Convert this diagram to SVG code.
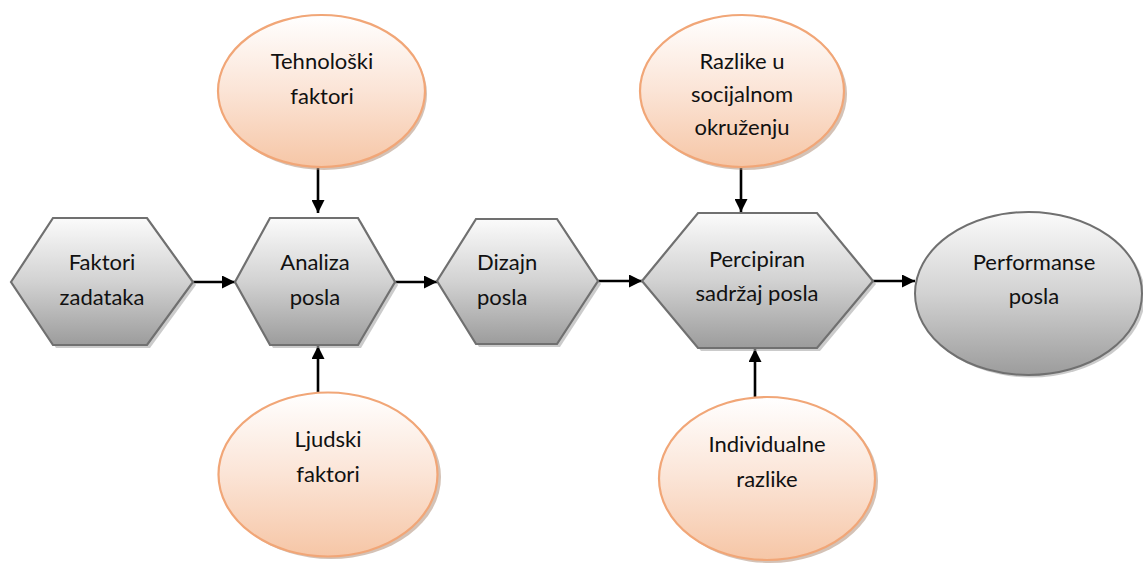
<svg xmlns="http://www.w3.org/2000/svg" width="1143" height="563" viewBox="0 0 1143 563">
<defs>
<linearGradient id="gGray" x1="0" y1="0" x2="0" y2="1">
<stop offset="0" stop-color="#fbfbfb"/>
<stop offset="0.5" stop-color="#d2d2d2"/>
<stop offset="1" stop-color="#9c9c9c"/>
</linearGradient>
<linearGradient id="gOrange" x1="0" y1="0" x2="0" y2="1">
<stop offset="0" stop-color="#ffffff"/>
<stop offset="0.5" stop-color="#fbe4d6"/>
<stop offset="1" stop-color="#f6c6a6"/>
</linearGradient>
<marker id="arr" viewBox="0 0 10 10" refX="10" refY="5" markerWidth="5.5" markerHeight="5" orient="auto" markerUnits="strokeWidth">
<path d="M0,0 L10,5 L0,10 z" fill="#000"/>
</marker>
</defs>
<style>
.hex{fill:url(#gGray);stroke:#707070;stroke-width:2.2;stroke-linejoin:miter}
.gel{fill:url(#gGray);stroke:#707070;stroke-width:2}
.oel{fill:url(#gOrange);stroke:#f1a677;stroke-width:2.2}
.sh{fill:#a8a8a8;opacity:0.6}
.osh{fill:#b89a86;opacity:0.6}
.t{font-family:Lato,"Open Sans","Liberation Sans",sans-serif;font-size:22px;fill:#111;text-anchor:middle}
.tl{text-anchor:start}
.c{stroke:#000;stroke-width:2.6;fill:none;marker-end:url(#arr)}
</style>
<rect width="1143" height="563" fill="#fff"/>

<g id="connectors">
<line class="c" x1="193" y1="282" x2="235" y2="282"/>
<line class="c" x1="395" y1="282" x2="437" y2="282"/>
<line class="c" x1="598" y1="281" x2="642" y2="281"/>
<line class="c" x1="873" y1="281" x2="915" y2="281"/>
<line class="c" x1="318" y1="168" x2="318" y2="213"/>
<line class="c" x1="318" y1="393" x2="318" y2="346"/>
<line class="c" x1="741" y1="168" x2="741" y2="212"/>
<line class="c" x1="755" y1="397" x2="755" y2="349"/>
</g>

<g id="n-faktori-zadataka">
<polygon class="sh" points="14,285 56,221 150,221 196,285 150,348 56,348"/>
<polygon class="hex" points="11,282 53,218 147,218 193,282 147,345 53,345"/>
<text class="t" x="102" y="270">Faktori</text>
<text class="t" x="102" y="305">zadataka</text>
</g>

<g id="n-analiza-posla">
<polygon class="sh" points="238,285 273,221 361,221 398,285 361,348 273,348"/>
<polygon class="hex" points="235,282 270,218 358,218 395,282 358,345 270,345"/>
<text class="t" x="315" y="270">Analiza</text>
<text class="t" x="315" y="305">posla</text>
</g>

<g id="n-dizajn-posla">
<polygon class="sh" points="440,284 479,222 560,222 601,284 560,347 479,347"/>
<polygon class="hex" points="437,281 476,219 557,219 598,281 557,344 476,344"/>
<text class="t tl" x="477" y="270">Dizajn</text>
<text class="t tl" x="477" y="305">posla</text>
</g>

<g id="n-percipiran">
<polygon class="sh" points="645,284 701,216 820,216 876,284 820,351 701,351"/>
<polygon class="hex" points="642,281 698,213 817,213 873,281 817,348 698,348"/>
<text class="t" x="757" y="267">Percipiran</text>
<text class="t" x="757" y="301">sadržaj posla</text>
</g>

<g id="n-performanse">
<ellipse class="sh" cx="1031" cy="296" rx="114" ry="81.5"/>
<ellipse class="gel" cx="1028.5" cy="293.5" rx="113.5" ry="81.5"/>
<text class="t" x="1034" y="270">Performanse</text>
<text class="t" x="1034" y="304">posla</text>
</g>

<g id="n-tehnoloski">
<ellipse class="osh" cx="324" cy="94" rx="103" ry="76"/>
<ellipse class="oel" cx="321.5" cy="91" rx="103.5" ry="76"/>
<text class="t" x="322" y="69">Tehnološki</text>
<text class="t" x="322" y="104">faktori</text>
</g>

<g id="n-ljudski">
<ellipse class="osh" cx="331" cy="477" rx="110" ry="82"/>
<ellipse class="oel" cx="328" cy="474.5" rx="109.5" ry="82"/>
<text class="t" x="328" y="447">Ljudski</text>
<text class="t" x="328" y="482">faktori</text>
</g>

<g id="n-razlike">
<ellipse class="osh" cx="745" cy="94" rx="102" ry="76"/>
<ellipse class="oel" cx="742" cy="91" rx="102" ry="76"/>
<text class="t" x="742" y="69">Razlike u</text>
<text class="t" x="742" y="102">socijalnom</text>
<text class="t" x="742" y="135">okruženju</text>
</g>

<g id="n-individualne">
<ellipse class="osh" cx="770" cy="481" rx="108" ry="82"/>
<ellipse class="oel" cx="767" cy="478.5" rx="108" ry="81.5"/>
<text class="t" x="767" y="452">Individualne</text>
<text class="t" x="767" y="487">razlike</text>
</g>
</svg>
